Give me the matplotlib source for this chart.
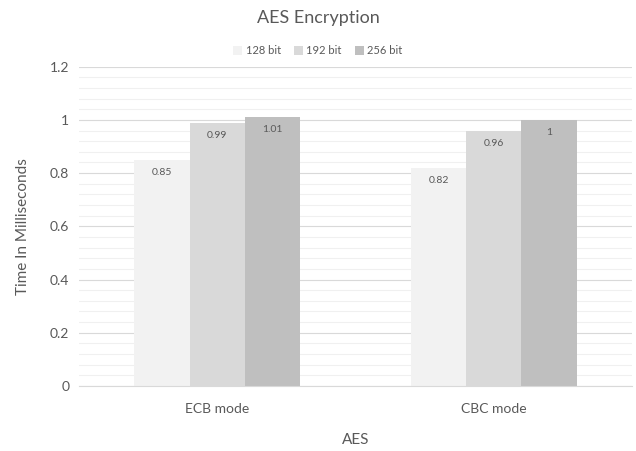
import matplotlib
matplotlib.use("Agg")
import matplotlib.pyplot as plt
import numpy as np

categories = ["ECB mode", "CBC mode"]
series_names = ["128 bit", "192 bit", "256 bit"]
values_128 = [0.85, 0.82]
values_192 = [0.99, 0.96]
values_256 = [1.01, 1.0]
value_labels_128 = ["0.85", "0.82"]
value_labels_192 = ["0.99", "0.96"]
value_labels_256 = ["1.01", "1"]
y_ticks = [0, 0.2, 0.4, 0.6, 0.8, 1, 1.2]
y_tick_labels = ["0", "0.2", "0.4", "0.6", "0.8", "1", "1.2"]

colors = ["#F2F2F2", "#D9D9D9", "#BFBFBF"]
text_color = "#595959"
plt.rcParams['font.family'] = ['Lato', 'DejaVu Sans']

fig = plt.figure(figsize=(6.36, 4.51), dpi=100)
ax = fig.add_axes([79/636, 1 - 386/451, (632-79)/636, (386-66.7)/451])

x = np.arange(len(categories))
w = 0.2
all_vals = [values_128, values_192, values_256]
all_labels = [value_labels_128, value_labels_192, value_labels_256]
for i, (vals, labs) in enumerate(zip(all_vals, all_labels)):
    bars = ax.bar(x + (i - 1) * w, vals, width=w, color=colors[i], label=series_names[i], zorder=3)
    for b, lab in zip(bars, labs):
        ax.annotate(lab, (b.get_x() + b.get_width() / 2, b.get_height()),
                    xytext=(0, -9), textcoords="offset points", ha="center", va="center",
                    fontsize=7.5, color=text_color, zorder=4)

ax.set_xlim(-0.5, 1.5)
ax.set_ylim(0, 1.2)
ax.set_yticks(y_ticks)
ax.set_yticklabels(y_tick_labels)
ax.set_yticks(np.arange(0, 1.2001, 0.04), minor=True)
ax.grid(axis="y", which="major", color="#D9D9D9", linewidth=0.8, zorder=0)
ax.grid(axis="y", which="minor", color="#F0F0F0", linewidth=0.8, zorder=0)
ax.set_xticks(x)
ax.set_xticklabels(categories)
ax.tick_params(axis="both", which="both", length=0, colors=text_color, labelsize=10)
ax.tick_params(axis="x", pad=12)
ax.tick_params(axis="y", pad=7)
for s in ["top", "right", "left"]:
    ax.spines[s].set_visible(False)
ax.spines["bottom"].set_color("#D9D9D9")
ax.spines["bottom"].set_zorder(5)

ax.set_ylabel("Time In Milliseconds", fontsize=11, color=text_color, labelpad=14)
ax.set_xlabel("AES", fontsize=11, color=text_color, labelpad=13)
fig.text(0.5, 1 - 18/451, "AES Encryption", ha="center", va="center", fontsize=13, color=text_color)

leg = fig.legend(loc="center", bbox_to_anchor=(0.5, 1 - 51/451), ncol=3, frameon=False,
                 fontsize=8, handlelength=0.8, handleheight=0.8, handletextpad=0.3, columnspacing=1.2)
for t in leg.get_texts():
    t.set_color(text_color)

fig.savefig("out.png", dpi=100, facecolor="white")
